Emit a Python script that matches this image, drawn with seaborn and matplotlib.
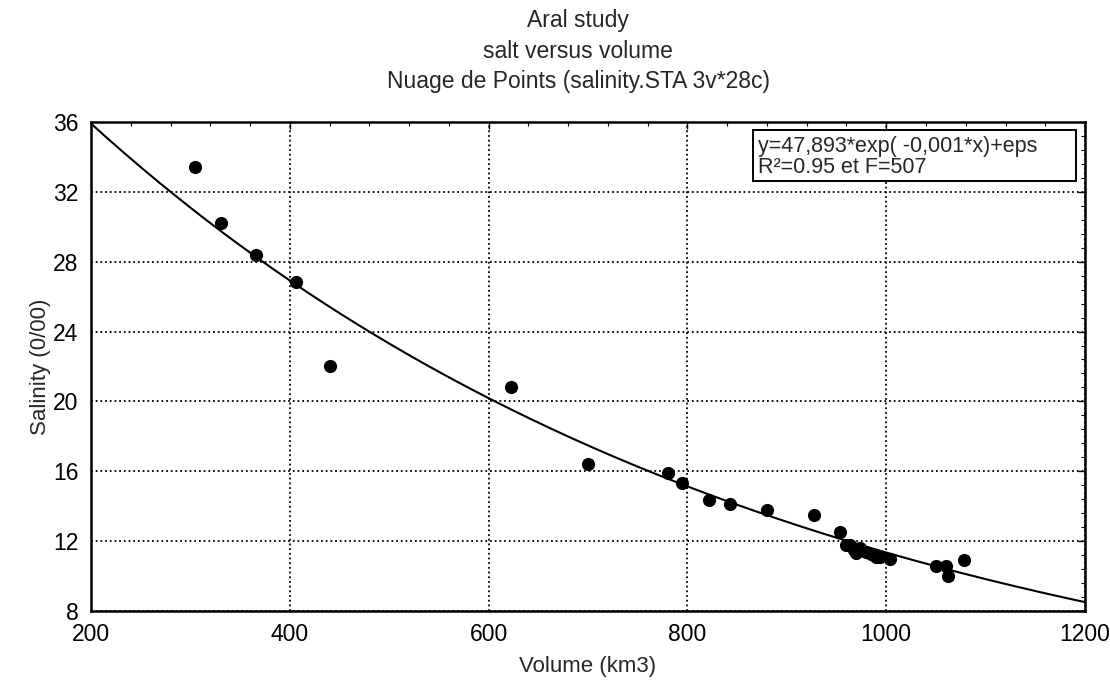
import numpy as np
import pandas as pd
import matplotlib
matplotlib.use("Agg")
import matplotlib.pyplot as plt
import matplotlib.patches as mpatches
import seaborn as sns

# data
volume = [305, 331, 366, 406, 440, 623, 700, 780, 795, 822, 843, 880, 927, 954,
          960, 964, 968, 970, 974, 980, 985, 990, 994, 1004, 1050, 1060, 1062, 1078]
salinity = [33.4, 30.2, 28.4, 26.85, 22.05, 20.8, 16.4, 15.9, 15.3, 14.35, 14.1, 13.8, 13.5, 12.5,
            11.8, 11.75, 11.5, 11.3, 11.6, 11.4, 11.25, 11.1, 11.1, 11.0, 10.6, 10.6, 10.0, 10.9]

# fitted exponential model y = a*exp(-k*x)
fit_a = 47.893
fit_k = 0.00144
fit_lines = ["y=47,893*exp( -0,001*x)+eps", "R²=0.95 et F=507"]

x_ticks = [200, 400, 600, 800, 1000, 1200]
y_ticks = [8, 12, 16, 20, 24, 28, 32, 36]
titles = ["Aral study", "salt versus volume", "Nuage de Points (salinity.STA 3v*28c)"]

df = pd.DataFrame({"volume": volume, "salinity": salinity})
xs = np.linspace(200, 1200, 300)
curve = pd.DataFrame({"volume": xs, "salinity": fit_a * np.exp(-fit_k * xs)})

sns.set_style("white")
plt.rcParams["font.family"] = ["Liberation Sans", "DejaVu Sans"]

fig = plt.figure(figsize=(11.10, 6.81), dpi=100)
ax = fig.add_axes([0.082, 0.1028, 0.8955, 0.7181])

sns.lineplot(data=curve, x="volume", y="salinity", color="black", linewidth=1.5, ax=ax, zorder=3)
sns.scatterplot(data=df, x="volume", y="salinity", color="black", s=90, edgecolor="black",
                linewidth=0, ax=ax, zorder=4)

ax.set_xlim(200, 1200)
ax.set_ylim(8, 36)
ax.set_xticks(x_ticks)
ax.set_yticks(y_ticks)
ax.set_xticks(np.arange(200, 1201, 40), minor=True)
ax.set_yticks(np.arange(8, 36.01, 0.8), minor=True)
ax.tick_params(which="both", direction="in", top=True, right=True, colors="black",
               labelsize=16.5)
ax.tick_params(which="major", length=5, width=1)
ax.tick_params(axis="x", which="major", pad=9)
ax.tick_params(axis="y", which="major", pad=9)
ax.tick_params(which="minor", length=3, width=0.8)
ax.grid(True, which="major", color="black", linestyle=(0, (1, 1.6)), linewidth=1.3)
for sp in ax.spines.values():
    sp.set_color("black")
    sp.set_linewidth(1.8)

ax.set_xlabel("Volume (km3)", fontsize=16)
ax.set_ylabel("Salinity (0/00)", fontsize=16)
ax.xaxis.set_label_coords(0.5, -0.093)
ax.yaxis.set_label_coords(-0.040, 0.5)

for i, t in enumerate(titles):
    fig.text(0.521, 0.9706 - i * 0.0455, t, ha="center", va="center", fontsize=16.5)

# equation box
ax.add_patch(mpatches.Rectangle((0.666, 0.8793), 0.325, 0.1043, transform=ax.transAxes,
                                facecolor="white", edgecolor="black", linewidth=1.4, zorder=5))
ax.text(0.671, 0.950, fit_lines[0], transform=ax.transAxes, ha="left", va="center",
        fontsize=15.5, zorder=6)
ax.text(0.671, 0.906, fit_lines[1], transform=ax.transAxes, ha="left", va="center",
        fontsize=15.5, zorder=6)

fig.savefig("out.png", dpi=100)
